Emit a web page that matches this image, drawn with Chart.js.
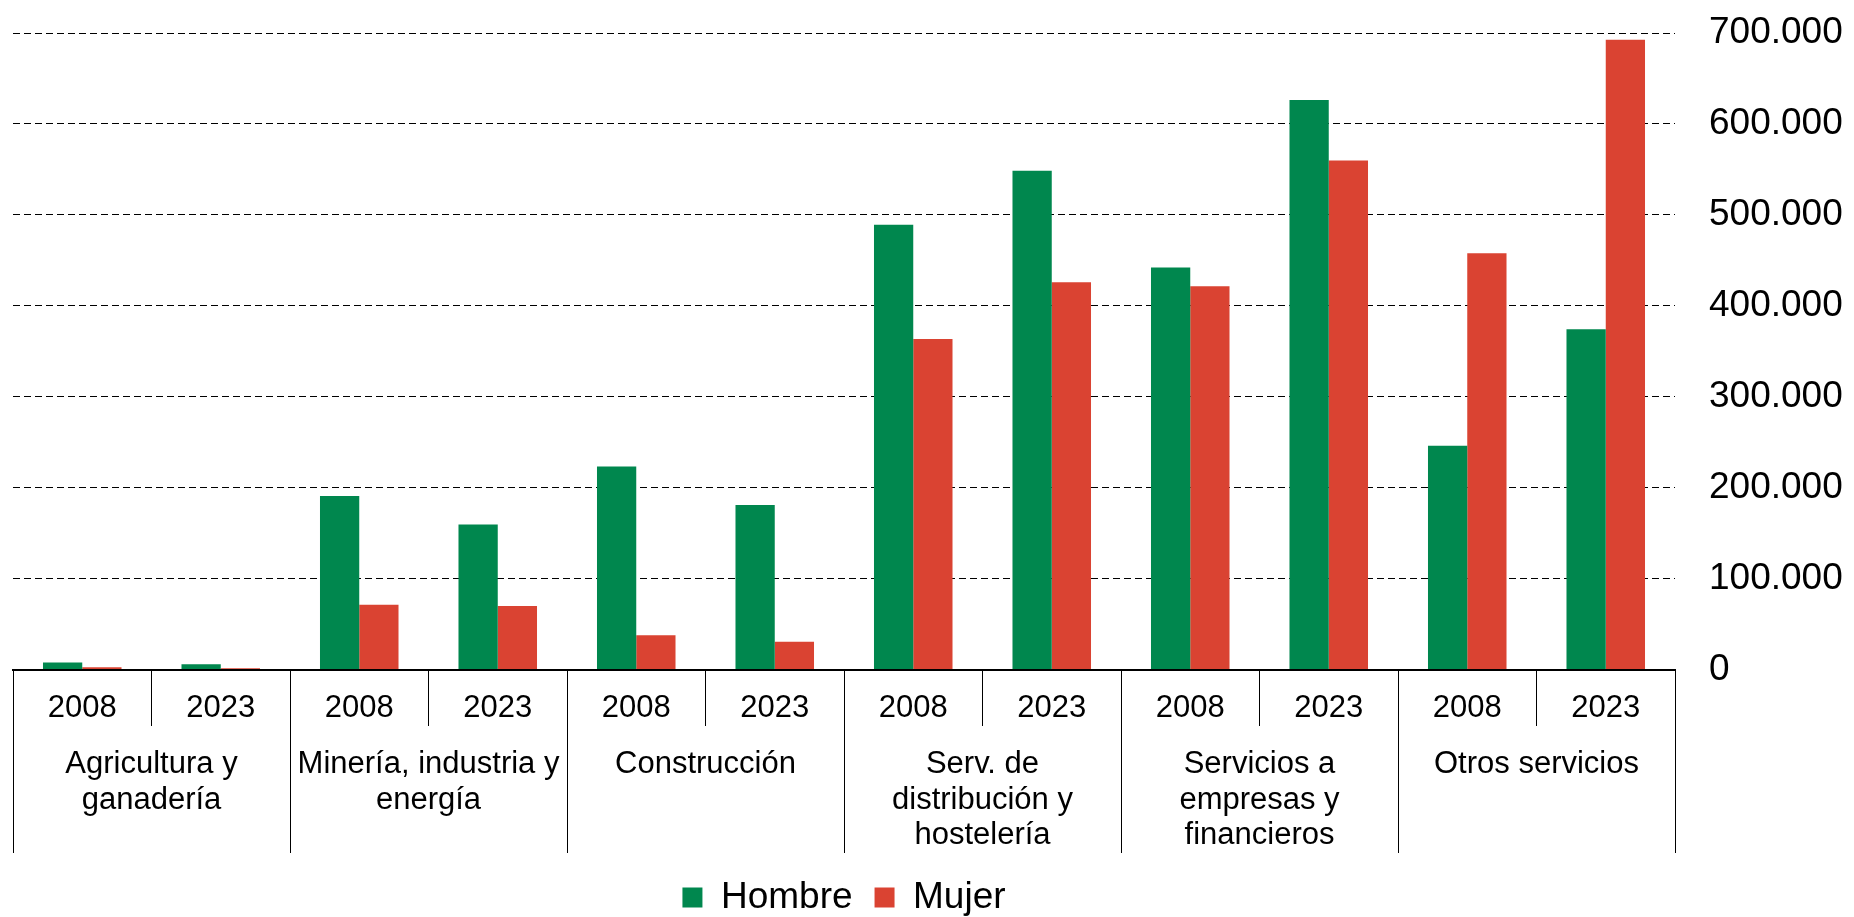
<!DOCTYPE html>
<html>
<head>
<meta charset="utf-8">
<script src="https://cdn.jsdelivr.net/npm/chart.js@4.4.1/dist/chart.umd.min.js"></script>
<style>
  html, body { margin: 0; padding: 0; background: #fff; }
  #wrap { position: relative; width: 1854px; height: 917px; }
</style>
</head>
<body>
<div id="wrap"><canvas id="chart"></canvas></div>
<script>
// Data
const years = ["2008", "2023", "2008", "2023", "2008", "2023",
               "2008", "2023", "2008", "2023", "2008", "2023"];
const sectors = [
  ["Agricultura y", "ganadería"],
  ["Minería, industria y", "energía"],
  ["Construcción"],
  ["Serv. de", "distribución y", "hostelería"],
  ["Servicios a", "empresas y", "financieros"],
  ["Otros servicios"]
];
const hombre = [7800, 5900, 190800, 159400, 223200, 181000,
                489000, 548400, 442000, 626400, 246200, 374300];
const mujer = [2500, 1500, 71100, 69700, 37800, 30400,
               363500, 425800, 421400, 559700, 457700, 692600];
const yMax = 700000;
const yStep = 100000;

const GREEN = "#00874E";
const RED = "#DA4332";

Chart.defaults.font.family = "'Liberation Sans', Arial, sans-serif";
Chart.defaults.color = "#000";

// thousands with a dot: 700000 -> "700.000"
function fmt(v) {
  return String(v).replace(/\B(?=(\d{3})+(?!\d))/g, ".");
}

const ctx = document.getElementById("chart").getContext("2d");
new Chart(ctx, {
  type: "bar",
  data: {
    labels: years,
    datasets: [
      { label: "Hombre", data: hombre, backgroundColor: GREEN,
        categoryPercentage: 0.567, barPercentage: 1.0 },
      { label: "Mujer", data: mujer, backgroundColor: RED,
        categoryPercentage: 0.567, barPercentage: 1.0 }
    ]
  },
  options: {
    responsive: true,
    maintainAspectRatio: false,
    animation: false,
    layout: { padding: { top: 33, left: 13, right: 0, bottom: 0 } },
    plugins: {
      tooltip: { enabled: false },
      legend: {
        position: "bottom",
        fullSize: false,
        maxHeight: 60,
        labels: {
          boxWidth: 20,
          boxHeight: 20,
          padding: 22,
          font: { size: 37 }
        }
      }
    },
    scales: {
      x: {
        weight: 0,
        offset: true,
        grid: {
          offset: true,
          drawOnChartArea: false,
          drawTicks: true,
          tickLength: 56.5,
          color: "#000",
          lineWidth: 1
        },
        border: { display: true, color: "#000", width: 2 },
        ticks: { padding: -36, font: { size: 31 }, maxRotation: 0, autoSkip: false },
        afterFit: s => { s.height = 56.5; }
      },
      x2: {
        type: "category",
        position: "bottom",
        weight: 1,
        labels: sectors,
        offset: true,
        grid: {
          offset: true,
          drawOnChartArea: false,
          drawTicks: true,
          tickLength: 127,
          color: "#000",
          lineWidth: 1
        },
        border: { display: false },
        ticks: { padding: -106, font: { size: 31, lineHeight: 1.14 }, maxRotation: 0, autoSkip: false },
        afterFit: s => { s.height = 131; }
      },
      y: {
        position: "right",
        min: 0,
        max: yMax,
        ticks: {
          stepSize: yStep,
          padding: 0,
          font: { size: 37 },
          callback: v => fmt(v)
        },
        // invisible tick marks push the labels away from the plot
        grid: { color: "#000", lineWidth: 1, drawTicks: true, tickLength: 34, tickColor: "rgba(0,0,0,0)" },
        border: { display: false, dash: [7, 4] },
        afterFit: s => { s.width = 179; }
      }
    }
  }
});
</script>
</body>
</html>
